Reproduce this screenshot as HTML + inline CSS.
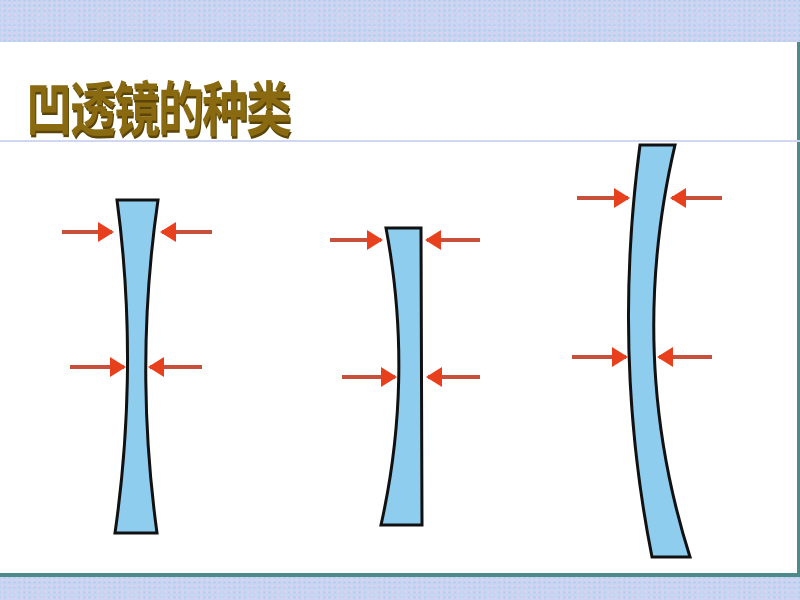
<!DOCTYPE html>
<html><head><meta charset="utf-8"><style>
html,body{margin:0;padding:0}
body{width:800px;height:600px;position:relative;overflow:hidden;background:#fff;font-family:"Liberation Sans","Noto Sans CJK SC",sans-serif}
.band{position:absolute;left:0;width:800px;background:#c9d6f2;background-image:radial-gradient(#e0d0f0 1px,transparent 1.5px),radial-gradient(#b4cbee 1px,transparent 1.5px);background-size:6px 6px,5px 5px;background-position:0 0,2px 3px}
.t{position:absolute;left:26px;top:70px;font-size:46px;font-weight:bold;color:#8a6a10;font-family:"Noto Sans CJK SC","WenQuanYi Zen Hei",sans-serif;letter-spacing:-2px;text-shadow:1px 2px 0 #5a4408;line-height:56px;transform:scaleY(1.3);transform-origin:0 0;white-space:nowrap}
</style></head><body>
<div class="band" style="top:0;height:42px"></div>
<div class="band" style="top:577px;height:23px"></div>
<div style="position:absolute;left:0;top:573px;width:800px;height:4px;background:#4f8a8a"></div>
<div style="position:absolute;left:797px;top:42px;width:3px;height:535px;background:#4f8a8a"></div>
<div style="position:absolute;left:0;top:140px;width:800px;height:2px;background:#cfd8f0"></div>
<div class="t">凹透镜的种类</div>
<svg width="800" height="600" style="position:absolute;left:0;top:0">
<defs><marker id="a" markerWidth="4" markerHeight="5" refX="3.5" refY="2.5" orient="auto" markerUnits="strokeWidth"><path d="M0,0 L4,2.5 L0,5 Z" fill="#e8401c"/></marker></defs>
<g fill="#8fcdef" stroke="#111" stroke-width="3">
<path d="M117,200 L158,200 Q134,365 157,533 L115,533 Q139,365 117,200 Z"/>
<path d="M386,228 L421,228 L422,525 L381,525 Q414,377 386,228 Z"/>
<path d="M640,145 L675,145 Q626,355 690,557 L652,557 Q612,355 640,145 Z"/>
</g>
<g stroke="#c8503a" stroke-width="4" marker-end="url(#a)" fill="none">
<line x1="62" y1="232" x2="112" y2="232"/><line x1="212" y1="232" x2="162" y2="232"/>
<line x1="70" y1="367" x2="124" y2="367"/><line x1="202" y1="367" x2="150" y2="367"/>
<line x1="330" y1="240" x2="381" y2="240"/><line x1="480" y1="240" x2="427" y2="240"/>
<line x1="342" y1="377" x2="395" y2="377"/><line x1="480" y1="377" x2="428" y2="377"/>
<line x1="577" y1="198" x2="628" y2="198"/><line x1="722" y1="198" x2="672" y2="198"/>
<line x1="572" y1="357" x2="626" y2="357"/><line x1="712" y1="357" x2="659" y2="357"/>
</g>
</svg>
</body></html>
